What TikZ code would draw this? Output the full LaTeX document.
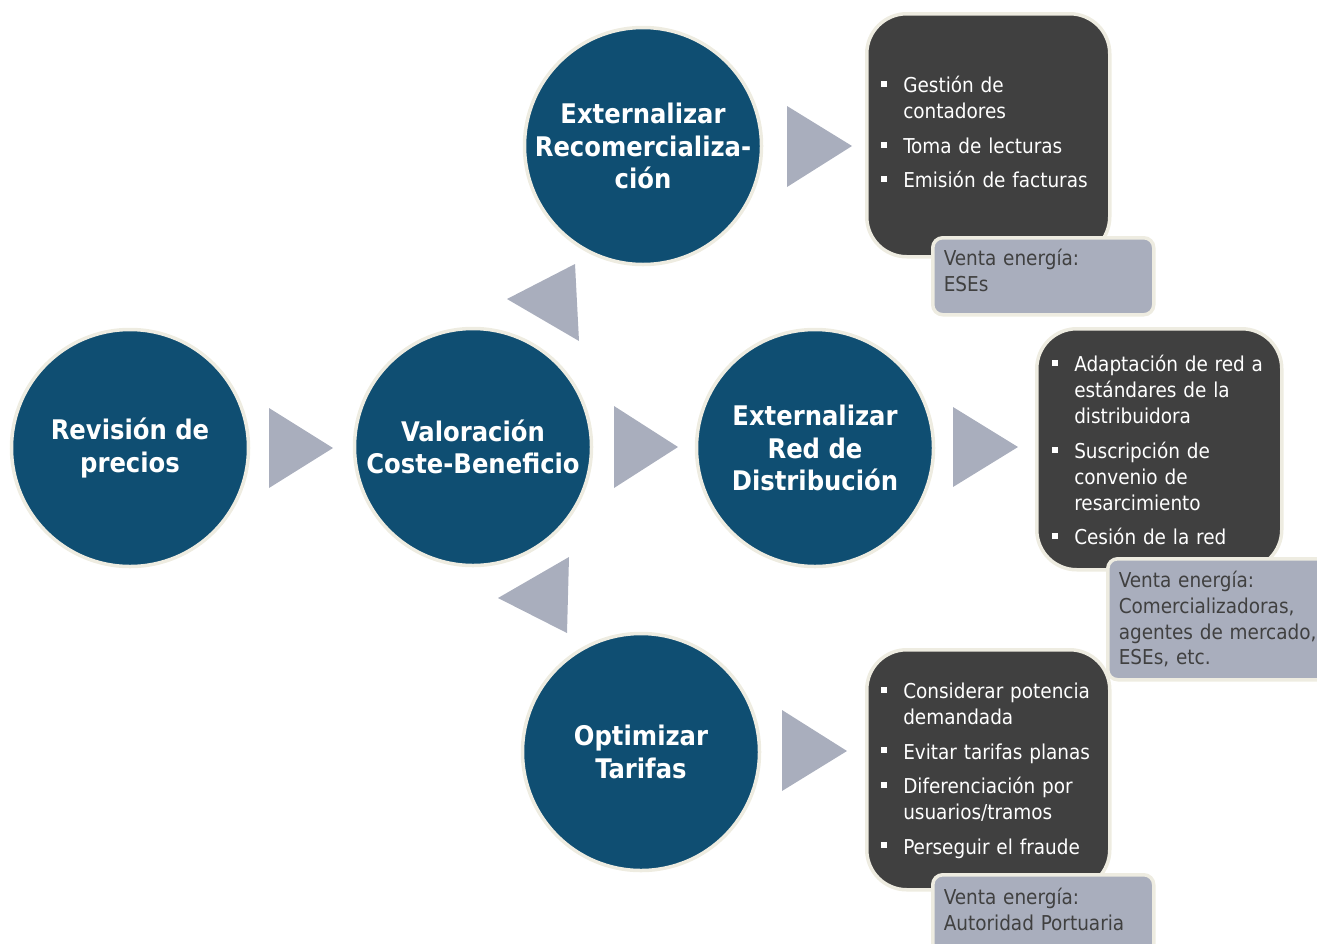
\documentclass[tikz,border=0pt]{standalone}
\usepackage{fontspec}
\setmainfont{DejaVu Sans Condensed}
\usepackage{tikz}
\usetikzlibrary{calc}
\definecolor{circblue}{HTML}{0F4E72}
\definecolor{rimbeige}{HTML}{EEECE1}
\definecolor{boxdark}{HTML}{404040}
\definecolor{tagrey}{HTML}{A9AEBD}
\newcommand{\sqbul}{\raisebox{0.28em}{\rule{6pt}{6pt}}}
\tikzset{
  stage/.style={circle, fill=circblue, draw=rimbeige, line width=3.5pt,
    minimum size=237pt, inner sep=0pt},
  stagelbl/.style={text=white, align=center, inner sep=0pt,
    font=\bfseries\fontsize{27}{32.5}\selectfont},
  taskbox/.style={rectangle, rounded corners=40pt, fill=boxdark, draw=rimbeige,
    line width=3.5pt, anchor=north west, text=white, align=left,
    font=\fontsize{20.5}{26}\selectfont},
  salebox/.style={rectangle, rounded corners=10pt, fill=tagrey, draw=rimbeige,
    line width=3.5pt, anchor=north west, text=boxdark, align=left,
    inner xsep=11pt, font=\fontsize{20.5}{25.7}\selectfont},
  tri/.style={fill=tagrey}
}
\begin{document}
\begin{tikzpicture}[x=1pt,y=-1pt]
\useasboundingbox (0,0) rectangle (1317,943);
% stages
\node[stage] (rev) at (130,448) {};
\node[stagelbl] at (rev) {Revisión de\\precios};
\node[stage] (val) at (473,447) {};
\node[stagelbl] at (val) {Valoración\\Coste-Beneficio};
\node[stage] (recom) at (643,146) {};
\node[stagelbl] at (recom) {Externalizar\\Recomercializa-\\ción};
\node[stage] (red) at (815,448) {};
\node[stagelbl] at (red) {Externalizar\\Red de\\Distribución};
\node[stage] (tarif) at (641,752) {};
\node[stagelbl] at (tarif) {Optimizar\\Tarifas};
% arrows
\fill[tri] (269,408) -- (333,448) -- (269,488) -- cycle;
\fill[tri] (614,406) -- (678,447) -- (614,488) -- cycle;
\fill[tri] (575,264) -- (507,299) -- (579,341) -- cycle;
\fill[tri] (569,557) -- (498,598) -- (567,633) -- cycle;
\fill[tri] (787,106) -- (852,146) -- (787,187) -- cycle;
\fill[tri] (953,407) -- (1018,447) -- (953,487) -- cycle;
\fill[tri] (782,710) -- (847,751) -- (782,791) -- cycle;
% tasks
\node[taskbox, minimum width=243pt, minimum height=243pt, text width=214pt,
  inner xsep=13pt] (tareasrecom) at (865,12) {%
  \begin{tabular}{@{}l@{\hspace{16pt}}l@{}}
  \sqbul & Gestión de\\
         & contadores\\[8.5pt]
  \sqbul & Toma de lecturas\\[8.5pt]
  \sqbul & Emisión de facturas
  \end{tabular}};
\node[taskbox, minimum width=245pt, minimum height=241pt, text width=214pt,
  inner xsep=15pt] (tareasred) at (1035,327) {%
  \begin{tabular}{@{}l@{\hspace{16pt}}l@{}}
  \sqbul & Adaptación de red a\\
         & estándares de la\\
         & distribuidora\\[8.5pt]
  \sqbul & Suscripción de\\
         & convenio de\\
         & resarcimiento\\[8.5pt]
  \sqbul & Cesión de la red
  \end{tabular}\vspace*{-8pt}};
\node[taskbox, minimum width=243pt, minimum height=240pt, text width=214pt,
  inner xsep=13pt] (tareastarif) at (865,648) {%
  \begin{tabular}{@{}l@{\hspace{16pt}}l@{}}
  \sqbul & Considerar potencia\\
         & demandada\\[8.5pt]
  \sqbul & Evitar tarifas planas\\[8.5pt]
  \sqbul & Diferenciación por\\
         & usuarios/tramos\\[8.5pt]
  \sqbul & Perseguir el fraude
  \end{tabular}\vspace*{-3pt}};
% sales
\node[salebox, minimum width=221pt, minimum height=77pt, text width=199pt]
  (ventarecom) at (931,236) {Venta energía:\\ESEs\vspace*{11pt}};
\node[salebox, minimum width=230pt, minimum height=121pt, text width=208pt]
  (ventared) at (1106,557) {Venta energía:\\Comercializadoras,\\agentes de mercado,\\ESEs, etc.};
\node[salebox, minimum width=221pt, minimum height=80pt, text width=199pt]
  (ventatarif) at (931,873) {Venta energía:\\Autoridad Portuaria\vspace*{11pt}};
\end{tikzpicture}
\end{document}
